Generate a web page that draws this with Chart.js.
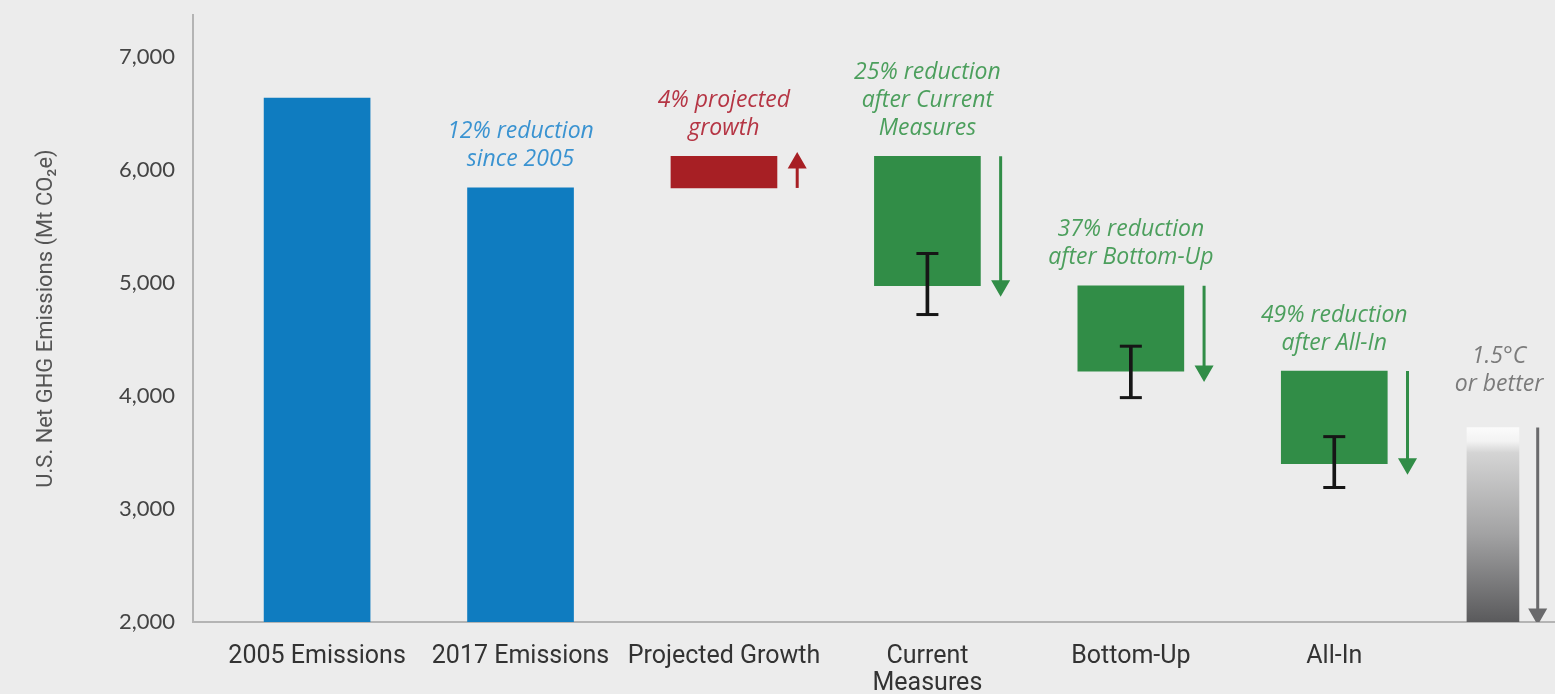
<!DOCTYPE html>
<html>
<head>
<meta charset="utf-8">
<script src="https://cdn.jsdelivr.net/npm/chart.js@4.4.1/dist/chart.umd.min.js"></script>
<style>
html, body { margin: 0; padding: 0; background: #ececec; overflow: hidden; }
#wrap { width: 1555px; height: 694px; position: relative; }
canvas { display: block; }
</style>
</head>
<body>
<div id="wrap"><canvas id="myChart"></canvas></div>
<script>
// data (Mt CO2e)
const categories = ['2005 Emissions', '2017 Emissions', 'Projected Growth', ['Current', 'Measures'], 'Bottom-Up', 'All-In'];
const barFrom = [2000, 2000, 5840, 6120, 4975, 4220];
const barTo = [6635, 5840, 6120, 4975, 4220, 3400];
const errLow = [null, null, null, 4720, 3985, 3190];
const errHigh = [null, null, null, 5260, 4440, 3640];
const arrowFrom = [null, null, 5840, 6120, 4975, 4220];
const arrowTo = [null, null, 6060, 4975, 4220, 3400];
const targetRange = [2000, 3720];
const yTicks = [2000, 3000, 4000, 5000, 6000, 7000];
const notes = [null, ['12% reduction', 'since 2005'], ['4% projected', 'growth'],
    ['25% reduction', 'after Current', 'Measures'], ['37% reduction', 'after Bottom-Up'], ['49% reduction', 'after All-In']];
const targetNote = ['1.5°C', 'or better'];

const BLUE = '#0f7cc0', RED = '#a71f24', GREEN = '#318d47';
const noteColors = [null, '#3a93d1', '#b53544', '#4c9f5d', '#4c9f5d', '#4c9f5d'];
const TARGET_X = 5.78; // 1.5C bar sits between the last category and the edge
const ARROW_DX = 0.36;

function pts(idx, from, to, dx) {
    return idx.map(function(i) { return { x: i + (dx || 0), y: [from[i], to[i]] }; });
}
const colorBars = [0, 1, 2, 3, 4, 5];
const errIdx = [3, 4, 5];

const datasets = [];
// main bars
datasets.push({
    type: 'bar',
    data: pts(colorBars, barFrom, barTo),
    backgroundColor: colorBars.map(function(i) { return i < 2 ? BLUE : (i === 2 ? RED : GREEN); }),
    barThickness: 106,
    order: 5
});
// 1.5C gradient bar
datasets.push({
    type: 'bar',
    data: [{ x: TARGET_X, y: targetRange }],
    backgroundColor: function(c) {
        const ch = c.chart;
        if (!ch.chartArea) return '#999';
        const ys = ch.scales.y;
        const top = ys.getPixelForValue(targetRange[1]);
        const bot = ys.getPixelForValue(targetRange[0]);
        const g = ch.ctx.createLinearGradient(0, top, 0, bot);
        g.addColorStop(0, '#fbfbfb');
        g.addColorStop(0.07, '#f3f3f3');
        g.addColorStop(0.13, '#d4d4d4');
        g.addColorStop(0.55, '#a2a2a3');
        g.addColorStop(1, '#5a5a5c');
        return g;
    },
    barThickness: 52,
    order: 5
});
// error bar stems
datasets.push({
    type: 'bar',
    data: pts(errIdx, errLow, errHigh),
    backgroundColor: '#161616',
    barThickness: 3,
    order: 2
});
// error bar caps
datasets.push({
    type: 'scatter',
    data: errIdx.map(function(i) { return { x: i, y: errLow[i] }; })
        .concat(errIdx.map(function(i) { return { x: i, y: errHigh[i] }; })),
    pointStyle: 'line',
    pointRadius: 11,
    pointHoverRadius: 11,
    borderColor: '#161616',
    borderWidth: 3,
    order: 1
});
// arrows
[2, 3, 4, 5].forEach(function(i) {
    const up = arrowTo[i] > arrowFrom[i];
    const col = i === 2 ? RED : GREEN;
    datasets.push({
        type: 'line',
        data: [{ x: i + ARROW_DX, y: arrowFrom[i] }, { x: i + ARROW_DX, y: arrowTo[i] }],
        borderColor: col,
        backgroundColor: col,
        borderWidth: 3,
        pointStyle: 'triangle',
        pointRadius: [0, 8],
        pointHoverRadius: [0, 8],
        pointRotation: up ? 0 : 180,
        order: 3
    });
});
datasets.push({
    type: 'line',
    data: [{ x: 6, y: targetRange[1] }, { x: 6, y: targetRange[0] + 70 }],
    borderColor: '#6a6a6c',
    backgroundColor: '#6a6a6c',
    borderWidth: 3,
    pointStyle: 'triangle',
    pointRadius: [0, 8],
    pointHoverRadius: [0, 8],
    pointRotation: 180,
    order: 3
});

// italic annotations above the bars
const notePlugin = {
    id: 'notes',
    afterDatasetsDraw: function(chart) {
        const ctx = chart.ctx, xs = chart.scales.x, ys = chart.scales.y;
        const lh = 28;
        ctx.save();
        ctx.font = 'italic 23px "Open Sans"';
        ctx.textAlign = 'center';
        ctx.textBaseline = 'middle';
        function draw(lines, x, yTop, gap, color) {
            ctx.fillStyle = color;
            const px = xs.getPixelForValue(x);
            const base = ys.getPixelForValue(yTop) - gap;
            lines.forEach(function(t, k) {
                ctx.fillText(t, px, base - (lines.length - 1 - k) * lh);
            });
        }
        notes.forEach(function(lines, i) {
            if (!lines) return;
            draw(lines, i, Math.max(barFrom[i], barTo[i]), 28, noteColors[i]);
        });
        draw(targetNote, TARGET_X + 0.03, targetRange[1], 43, '#7b7b7b');
        ctx.restore();
    }
};

const ctx = document.getElementById('myChart').getContext('2d');
const chart = new Chart(ctx, {
    type: 'bar',
    data: { datasets: datasets },
    options: {
        responsive: true,
        maintainAspectRatio: false,
        animation: false,
        events: [],
        // the caps/arrow points would otherwise add overflow padding on the right
        layout: { autoPadding: false, padding: { top: 15, left: 0, right: 0, bottom: 0 } },
        datasets: { bar: { grouped: false } },
        plugins: { legend: { display: false }, tooltip: { enabled: false } },
        scales: {
            x: {
                type: 'linear',
                min: -0.61,
                max: 6.085,
                offset: false,
                grid: { display: false, drawTicks: false },
                border: { display: true, color: '#b4b4b4', width: 2 },
                afterBuildTicks: function(s) {
                    s.ticks = categories.map(function(c, i) { return { value: i }; });
                },
                afterFit: function(s) {
                    s.height = 72;
                    s.paddingLeft = 0;
                    s.paddingRight = 0;
                },
                ticks: {
                    autoSkip: false,
                    maxRotation: 0,
                    padding: 22,
                    color: '#333',
                    font: { family: 'Roboto', size: 25, lineHeight: 1.05 },
                    callback: function(v) { return categories[v]; }
                }
            },
            y: {
                min: 2000,
                max: 7370,
                grid: { display: false, drawTicks: false },
                border: { display: true, color: '#b4b4b4', width: 2 },
                afterBuildTicks: function(s) {
                    s.ticks = yTicks.map(function(v) { return { value: v }; });
                },
                afterFit: function(s) {
                    s.width = 193;
                    s.paddingTop = 0;
                    s.paddingBottom = 0;
                },
                ticks: {
                    padding: 18,
                    color: '#444',
                    font: { family: 'Lato', size: 22 },
                    callback: function(v) { return v.toLocaleString('en-US'); }
                },
                title: {
                    display: true,
                    text: 'U.S. Net GHG Emissions (Mt CO\u2082e)',
                    color: '#555',
                    padding: { top: 33, bottom: 0 },
                    font: { family: 'Roboto', size: 22, lineHeight: 1.2 }
                }
            }
        }
    },
    plugins: [notePlugin]
});
</script>
</body>
</html>
